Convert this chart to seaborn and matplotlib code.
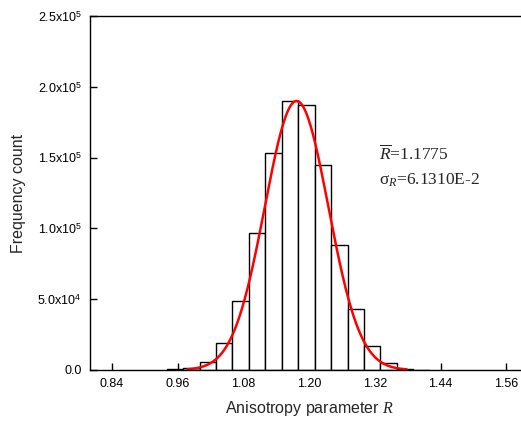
import numpy as np
import pandas as pd
import matplotlib
matplotlib.use("Agg")
import matplotlib.pyplot as plt
import seaborn as sns

# histogram bins (width 0.03) and counts
bin_edges = [0.94, 0.97, 1.00, 1.03, 1.06, 1.09, 1.12, 1.15, 1.18,
             1.21, 1.24, 1.27, 1.30, 1.33, 1.36, 1.39, 1.42]
counts = [500, 1200, 5900, 19300, 48700, 97000, 153500, 190000,
          187200, 144500, 88300, 42800, 16900, 5200, 700, 300]

# gaussian fit drawn in red
fit_mean = 1.177
fit_sigma = 0.058
fit_peak = 190000
fit_range = [0.978, 1.378]

x_ticks = [0.84, 0.96, 1.08, 1.20, 1.32, 1.44, 1.56]
y_ticks = [0, 50000, 100000, 150000, 200000, 250000]
y_ticklabels = ['0.0', '5.0x10$^4$', '1.0x10$^5$', '1.5x10$^5$',
                '2.0x10$^5$', '2.5x10$^5$']

sns.set_style("ticks", {'xtick.direction': 'in', 'ytick.direction': 'in'})
plt.rcParams['font.family'] = ['Liberation Sans', 'DejaVu Sans']
plt.rcParams['xtick.direction'] = 'in'
plt.rcParams['ytick.direction'] = 'in'
plt.rcParams['mathtext.fontset'] = 'custom'
plt.rcParams['mathtext.rm'] = 'Liberation Sans'
plt.rcParams['mathtext.it'] = 'Liberation Serif:italic'

fig = plt.figure(figsize=(5.21, 4.22), dpi=100)
ax = fig.add_axes([90 / 521, 52 / 422, 438.4 / 521, 354 / 422])

centers = [(a + b) / 2 for a, b in zip(bin_edges[:-1], bin_edges[1:])]
df = pd.DataFrame({'R': centers, 'count': counts})
sns.histplot(data=df, x='R', weights='count', bins=bin_edges, ax=ax,
             color='white', edgecolor='black', linewidth=1.0, alpha=1)

xs = np.linspace(fit_range[0], fit_range[1], 300)
ys = fit_peak * np.exp(-0.5 * ((xs - fit_mean) / fit_sigma) ** 2)
sns.lineplot(x=xs, y=ys, ax=ax, color='red', linewidth=1.8)

ax.set_xlim(0.8, 1.6)
ax.set_ylim(0, 250000)
ax.set_xticks(x_ticks)
ax.set_xticklabels([f"{t:.2f}" for t in x_ticks])
ax.set_yticks(y_ticks)
ax.set_yticklabels(y_ticklabels)
ax.tick_params(axis='both', which='both', direction='in', length=5,
               width=1, labelsize=9, pad=6, colors='black')
ax.set_xlabel('Anisotropy parameter $R$', fontsize=11.5, labelpad=6)
ax.set_ylabel('Frequency count', fontsize=11.5, labelpad=8)

for s in ['left', 'bottom', 'top']:
    ax.spines[s].set_visible(True)
    ax.spines[s].set_color('black')
    ax.spines[s].set_linewidth(1.0)
ax.spines['right'].set_visible(False)

serif = {'family': 'Liberation Serif', 'size': 12.5}
ax.text(1.327, 148300, r'$\overline{R}$=1.1775', fontdict=serif)
ax.text(1.327, 131000, r'σ$_{R}$=6.1310E-2', fontdict=serif)

fig.savefig('out.png', dpi=100)
